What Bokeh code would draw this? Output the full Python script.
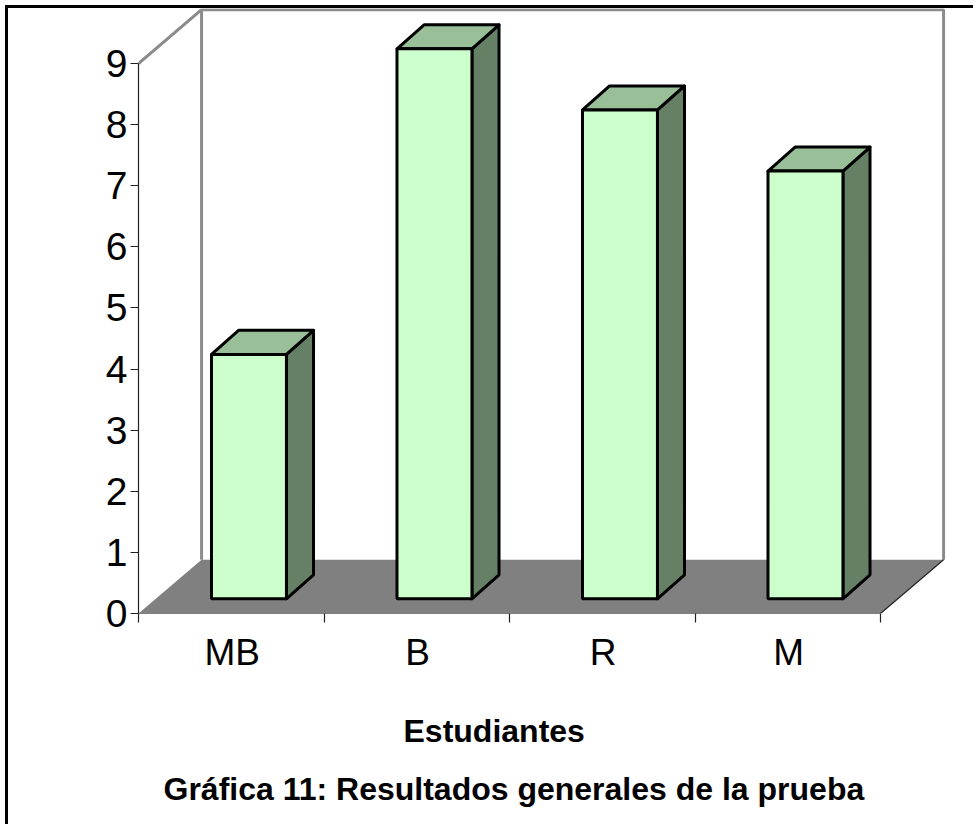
from bokeh.plotting import figure
from bokeh.models import FixedTicker, Range1d, Title
from bokeh.embed import file_html
from bokeh.resources import INLINE

categories = ["MB", "B", "R", "M"]
values = [4, 9, 8, 7]
y_ticks = [0, 1, 2, 3, 4, 5, 6, 7, 8, 9]
x_label = "Estudiantes"
title = "Gráfica 11: Resultados generales de la prueba"

FONT = "Liberation Sans"
FRONT, TOP, SIDE = "#CCFFCC", "#99BF99", "#668066"
FLOOR, WALL = "#808080", "#8C8C8C"

# Oblique projection of the pseudo-3D scene, in axis units
FLOOR_DX, FLOOR_DY = 0.34, 0.88
BAR_DX, BAR_DY = 0.146, 0.393
BAR_X0, BAR_W, BAR_BASE = 0.3935, 0.404, 0.24
N = len(categories)
Y_MAX = y_ticks[-1]

p = figure(
    width=968, height=819, output_backend="svg", toolbar_location=None,
    x_range=Range1d(0, 4.5175), y_range=Range1d(0, 9.9),
    min_border_left=130, min_border_right=0, min_border_top=0, min_border_bottom=214,
    background_fill_color="white", border_fill_color="white", outline_line_color=None,
    margin=(5, 0, 0, 5),
    styles={"border-left": "3px solid black", "border-top": "3px solid black"},
)
p.grid.visible = False

# back wall
p.line([0, FLOOR_DX, N + FLOOR_DX, N + FLOOR_DX],
       [Y_MAX, Y_MAX + FLOOR_DY, Y_MAX + FLOOR_DY, FLOOR_DY],
       line_color=WALL, line_width=3)
p.line([FLOOR_DX, FLOOR_DX], [Y_MAX + FLOOR_DY, FLOOR_DY], line_color=WALL, line_width=3)
p.line([0, FLOOR_DX], [Y_MAX, Y_MAX + FLOOR_DY], line_color=WALL, line_width=2)

# floor
p.patch([0, N, N + FLOOR_DX, FLOOR_DX], [0, 0, FLOOR_DY, FLOOR_DY], fill_color=FLOOR, line_color=None)
p.line([0, N, N + FLOOR_DX], [0, 0, FLOOR_DY], line_color="#222222", line_width=1.2)

# bars
lefts = [i + BAR_X0 for i in range(N)]
rights = [x + BAR_W for x in lefts]
tops = [BAR_BASE + v for v in values]
base = [BAR_BASE] * N
p.patches([[r, r + BAR_DX, r + BAR_DX, r] for r in rights],
          [[BAR_BASE, BAR_BASE + BAR_DY, t + BAR_DY, t] for t in tops],
          fill_color=SIDE, line_color="black", line_width=3, line_join="round")
p.patches([[l, l + BAR_DX, r + BAR_DX, r] for l, r in zip(lefts, rights)],
          [[t, t + BAR_DY, t + BAR_DY, t] for t in tops],
          fill_color=TOP, line_color="black", line_width=3, line_join="round")
p.quad(left=lefts, right=rights, bottom=base, top=tops,
       fill_color=FRONT, line_color="black", line_width=3)

# axes
ya = p.yaxis[0]
ya.ticker = FixedTicker(ticks=y_ticks)
ya.bounds = (0, Y_MAX)
ya.major_tick_out, ya.major_tick_in, ya.minor_tick_out, ya.minor_tick_in = 8, 0, 0, 0
ya.major_label_standoff = 3
ya.major_label_text_font = FONT
ya.major_label_text_font_size = "39px"
ya.major_label_text_color = "black"
ya.axis_line_color = "#222222"
ya.major_tick_line_color = "#222222"
ya.axis_line_width = 1.2
ya.major_tick_line_width = 1.2

xa = p.xaxis[0]
xa.ticker = FixedTicker(ticks=[i + 0.505 for i in range(N)], minor_ticks=list(range(N + 1)))
xa.major_label_overrides = {i + 0.505: c for i, c in enumerate(categories)}
xa.bounds = (0, N)
xa.major_tick_out, xa.major_tick_in, xa.minor_tick_in = 0, 0, 0
xa.minor_tick_out = 9
xa.minor_tick_line_color = "#222222"
xa.minor_tick_line_width = 1.2
xa.axis_line_color = None
xa.major_label_standoff = 9
xa.major_label_text_font = FONT
xa.major_label_text_font_size = "37px"
xa.major_label_text_color = "black"

p.add_layout(Title(text=x_label, align="left", offset=265, standoff=70, text_font=FONT,
                   text_font_size="32px", text_font_style="bold", text_color="black"), "below")
p.add_layout(Title(text=title, align="left", offset=25, standoff=-46, text_font=FONT,
                   text_font_size="32px", text_font_style="bold", text_color="black"), "below")

open("out.html", "w").write(file_html(p, INLINE))
